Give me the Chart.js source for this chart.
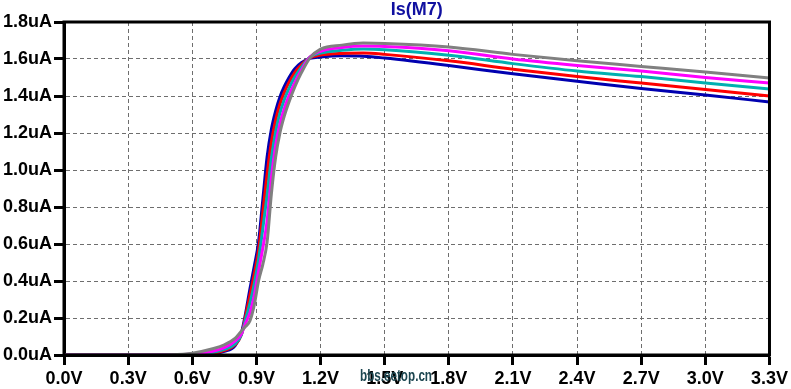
<!DOCTYPE html>
<html lang="en">
<head>
<meta charset="UTF-8">
<title>Is(M7)</title>
<script src="https://cdn.jsdelivr.net/npm/chart.js@4.4.1/dist/chart.umd.min.js"></script>
<style>
  html, body { margin: 0; padding: 0; background: #fff; }
  #wrap { width: 791px; height: 389px; }
</style>
</head>
<body>
<div id="wrap"><canvas id="isChart" width="791" height="389"></canvas></div>
<script>
// sweep voltage (V)
var volts = [0, 0.3, 0.5, 0.6, 0.7, 0.75, 0.8, 0.83, 0.85, 0.87, 0.89, 0.91, 0.93, 0.95, 0.97, 0.99,
             1.01, 1.03, 1.05, 1.08, 1.11, 1.15, 1.2, 1.3, 1.4, 1.5, 1.8, 2.1, 2.4, 2.7, 3.0, 3.3];

// Is(M7) in uA, one list per step
var isBlue    = [0, 0, 0, 0.001, 0.008, 0.02, 0.05, 0.12, 0.23, 0.36, 0.48, 0.61, 0.84, 1.07, 1.22, 1.32,
                 1.395, 1.45, 1.495, 1.548, 1.58, 1.603, 1.611, 1.617, 1.615, 1.605, 1.565, 1.52, 1.48, 1.44, 1.405, 1.368];
var isRed     = [0, 0, 0, 0.002, 0.01, 0.025, 0.055, 0.11, 0.215, 0.325, 0.438, 0.568, 0.77, 0.978, 1.15, 1.27,
                 1.356, 1.418, 1.468, 1.528, 1.569, 1.607, 1.621, 1.63, 1.632, 1.625, 1.59, 1.545, 1.505, 1.47, 1.435, 1.4];
var isTeal    = [0, 0, 0, 0.004, 0.015, 0.03, 0.06, 0.11, 0.196, 0.281, 0.385, 0.516, 0.683, 0.863, 1.062, 1.207,
                 1.307, 1.378, 1.434, 1.504, 1.555, 1.61, 1.632, 1.647, 1.654, 1.65, 1.62, 1.575, 1.535, 1.505, 1.47, 1.438];
var isMagenta = [0, 0, 0, 0.006, 0.022, 0.04, 0.075, 0.115, 0.174, 0.229, 0.323, 0.453, 0.578, 0.725, 0.957, 1.132,
                 1.249, 1.33, 1.394, 1.474, 1.539, 1.61, 1.642, 1.662, 1.67, 1.668, 1.645, 1.6, 1.565, 1.535, 1.5, 1.47];
var isGray    = [0, 0, 0.002, 0.01, 0.035, 0.055, 0.09, 0.13, 0.155, 0.185, 0.27, 0.4, 0.49, 0.61, 0.87, 1.07,
                 1.2, 1.29, 1.36, 1.45, 1.525, 1.605, 1.653, 1.675, 1.686, 1.684, 1.665, 1.625, 1.59, 1.56, 1.53, 1.497];

// tick labels
var xTickVals = [0, 0.3, 0.6, 0.9, 1.2, 1.5, 1.8, 2.1, 2.4, 2.7, 3.0, 3.3];
var xTickLabels = ['0.0V', '0.3V', '0.6V', '0.9V', '1.2V', '1.5V', '1.8V', '2.1V', '2.4V', '2.7V', '3.0V', '3.3V'];
var yTickVals = [0, 0.2, 0.4, 0.6, 0.8, 1.0, 1.2, 1.4, 1.6, 1.8];
var yTickLabels = ['0.0uA', '0.2uA', '0.4uA', '0.6uA', '0.8uA', '1.0uA', '1.2uA', '1.4uA', '1.6uA', '1.8uA'];

function toPoints(list) {
  return volts.map(function (v, i) { return { x: v, y: list[i] }; });
}

function line(data, colour) {
  return {
    data: toPoints(data),
    borderColor: colour,
    backgroundColor: colour,
    borderWidth: 3,
    pointRadius: 0,
    fill: false,
    cubicInterpolationMode: 'monotone'
  };
}

// box round the plot, title and watermark
var frame = {
  id: 'frame',
  afterDraw: function (chart) {
    var ctx = chart.ctx, a = chart.chartArea;
    ctx.save();
    ctx.strokeStyle = '#000';
    ctx.lineWidth = 3;
    ctx.strokeRect(a.left, a.top, a.right - a.left, a.bottom - a.top);
    ctx.fillStyle = '#1010a0';
    ctx.font = 'bold 18px "Liberation Sans", Arial, sans-serif';
    ctx.textAlign = 'center';
    ctx.textBaseline = 'middle';
    ctx.fillText('Is(M7)', (a.left + a.right) / 2, 10);
    ctx.fillStyle = '#1c4650';
    ctx.font = 'bold 16px "Liberation Sans", Arial, sans-serif';
    ctx.fillText('bbs.eetop.cn', 396, 377, 72);
    ctx.restore();
  }
};

var gridCol = '#6e6e6e';

var isChart = new Chart(document.getElementById('isChart').getContext('2d'), {
  type: 'line',
  data: {
    datasets: [
      line(isGray, '#808080'),
      line(isMagenta, '#ff00ff'),
      line(isTeal, '#00b0b0'),
      line(isRed, '#ff0000'),
      line(isBlue, '#0000b0')
    ]
  },
  options: {
    responsive: false,
    animation: false,
    layout: { padding: { top: 22, right: 19, left: 0, bottom: 0 } },
    plugins: { legend: { display: false }, title: { display: false }, tooltip: { enabled: false } },
    scales: {
      x: {
        type: 'linear',
        min: 0,
        max: 3.3,
        afterBuildTicks: function (s) { s.ticks = xTickVals.map(function (v) { return { value: v }; }); },
        afterFit: function (s) { s.height = 34; },
        grid: { color: gridCol, lineWidth: 1, tickLength: 10, tickWidth: 3, tickColor: '#000' },
        border: { color: '#000', width: 3, dash: [4, 3] },
        ticks: {
          color: '#000',
          padding: 3,
          maxRotation: 0,
          autoSkip: false,
          font: { family: '"Liberation Sans", Arial, sans-serif', size: 18, weight: 'bold' },
          callback: function (v, i) { return xTickLabels[i]; }
        }
      },
      y: {
        type: 'linear',
        min: 0,
        max: 1.8,
        afterBuildTicks: function (s) { s.ticks = yTickVals.map(function (v) { return { value: v }; }); },
        afterFit: function (s) { s.width = 64; },
        grid: { color: gridCol, lineWidth: 1, tickLength: 10, tickWidth: 3, tickColor: '#000' },
        border: { color: '#000', width: 3, dash: [4, 3] },
        ticks: {
          color: '#000',
          padding: 2,
          autoSkip: false,
          font: { family: '"Liberation Sans", Arial, sans-serif', size: 18, weight: 'bold' },
          callback: function (v, i) { return yTickLabels[i]; }
        }
      }
    }
  },
  plugins: [frame]
});
</script>
</body>
</html>
